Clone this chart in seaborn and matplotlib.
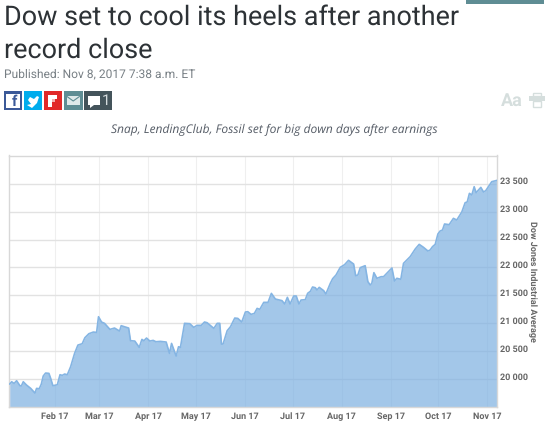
import pandas as pd
import matplotlib
matplotlib.use('Agg')
import matplotlib.pyplot as plt
import matplotlib.dates as mdates
from matplotlib.patches import Rectangle, Polygon
from matplotlib.transforms import ScaledTranslation
import seaborn as sns

# day of year (Jan 1 = 0) and index level
days = [2.4, 3.7, 5.2, 6.8, 8.9, 9.8, 11, 13.1, 15.7, 18.4, 19.4, 21.1, 22.4, 23.6, 25.1, 27.2, 28.3, 29.7,
        32.5, 34.2, 35.6, 37.1, 38.8, 40.9, 43.4, 45.5, 48.2, 49.9, 52.4, 55.2, 57.3, 58.5, 60.4, 62.3, 65.7,
        68.6, 71.8, 72.8, 74.9, 77.5, 78.7, 81.4, 84.2, 85.9, 87.1, 88.8, 90.9, 93, 94.7, 97.6, 101.2, 103.3,
        104.6, 107.5, 109, 110.2, 112.8, 116.1, 118.6, 120.7, 123.3, 125.4, 127, 131.3, 133.4, 135, 136.1,
        137.1, 139.7, 141.8, 144.5, 146.4, 148.9, 151.2, 152.7, 154.8, 156.9, 158.6, 160.3, 162.8, 165.5,
        167.6, 170.1, 174.3, 176, 177.7, 179.4, 181.7, 183.3, 185, 186.3, 189, 190.5, 192.2, 193.6, 195.3,
        196.4, 197.8, 200.6, 202, 204.8, 206.3, 208.4, 211.1, 213.8, 216.3, 219.5, 220.8, 222.2, 223.7,
        226.8, 228.5, 230, 231, 232.3, 234.2, 236.9, 238.4, 243.7, 245.3, 246.8, 249.3, 251, 255.2, 258.4,
        260.9, 263.6, 266.4, 267.8, 269.3, 271, 272.7, 274.1, 275.6, 276.9, 279.8, 282.5, 284.6, 287.8,
        289.9, 291.2, 292.6, 294.1, 295.6, 296.8, 299.8, 301.5, 302.9, 306.7, 310.1]
dow = [19910, 19952, 19922, 19970, 19881, 19875, 19952, 19892, 19833, 19749, 19833, 19827, 19910, 20054, 20108,
       20102, 20012, 19881, 19898, 20078, 20066, 20090, 20078, 20221, 20460, 20609, 20633, 20741, 20812, 20842,
       20836, 21117, 21022, 20998, 20890, 20914, 20860, 20956, 20938, 20914, 20687, 20681, 20568, 20711, 20687,
       20735, 20681, 20693, 20669, 20675, 20663, 20460, 20639, 20412, 20579, 20568, 20998, 20992, 20926, 20962,
       20962, 21022, 21010, 20908, 20998, 20998, 20627, 20627, 20866, 20938, 21093, 21087, 21022, 21201, 21207,
       21159, 21177, 21266, 21249, 21374, 21374, 21535, 21434, 21405, 21345, 21464, 21345, 21488, 21488, 21345,
       21416, 21422, 21536, 21572, 21649, 21637, 21596, 21643, 21584, 21524, 21715, 21799, 21864, 22002, 22049,
       22127, 22061, 21852, 21864, 21996, 22031, 21745, 21685, 21715, 21906, 21805, 21834, 21834, 21990, 21757,
       21805, 21787, 22073, 22193, 22330, 22413, 22360, 22294, 22312, 22372, 22413, 22599, 22652, 22670, 22778,
       22766, 22879, 22849, 22993, 23160, 23172, 23327, 23297, 23446, 23339, 23434, 23351, 23375, 23536, 23560]
y_ticks = [20000, 20500, 21000, 21500, 22000, 22500, 23000, 23500]
y_labels = ['20 000', '20 500', '21 000', '21 500', '22 000', '22 500', '23 000', '23 500']
month_ticks = ['2017-02-01', '2017-03-01', '2017-04-01', '2017-05-01', '2017-06-01',
               '2017-07-01', '2017-08-01', '2017-09-01', '2017-10-01', '2017-11-01']

headline = ['Dow set to cool its heels after another', 'record close']
published = 'Published: Nov 8, 2017 7:38 a.m. ET'
subhead = 'Snap, LendingClub, Fossil set for big down days after earnings'

sns.set_theme(style='white')
plt.rcParams['font.family'] = ['Roboto', 'DejaVu Sans']
plt.rcParams['text.hinting'] = 'no_hinting'
plt.rcParams['text.hinting_factor'] = 1

W, H = 550, 425
fig = plt.figure(figsize=(W / 100, H / 100), dpi=100)
L, R, T, B = 9, 497, 155.5, 406.7
ax = fig.add_axes([L / W, 1 - B / H, (R - L) / W, (B - T) / H])

df = pd.DataFrame({'date': pd.Timestamp('2017-01-01') + pd.to_timedelta(days, unit='D'), 'dow': dow})

# area chart with the grid showing through the fill
ax.fill_between(df['date'], df['dow'], 19500, color='#7cb0e1', alpha=0.7, lw=0, zorder=2)
sns.lineplot(data=df, x='date', y='dow', color='#85b5e3', lw=1.2, ax=ax, zorder=3)

ax.set_xlim(pd.Timestamp('2017-01-03'), pd.Timestamp('2017-11-07'))
ax.set_ylim(19505, 24005)
ax.set_xticks(pd.to_datetime(month_ticks))
ax.xaxis.set_major_formatter(mdates.DateFormatter('%b %y'))
ax.set_yticks(y_ticks, labels=y_labels)
ax.yaxis.tick_right()
ax.grid(axis='y', color='#e2e2e2', lw=1, zorder=1)
ax.grid(axis='x', color='#efefef', lw=0.8, zorder=1)
ax.set_axisbelow(True)
ax.tick_params(axis='both', length=0, labelsize=6.6, labelcolor='#666666')
ax.tick_params(axis='x', pad=4)
ax.tick_params(axis='y', pad=2)
for t in ax.get_yticklabels():
    t.set_fontweight('bold')
    t.set_transform(t.get_transform() + ScaledTranslation(0, 3 / 100, fig.dpi_scale_trans))
for t in ax.get_xticklabels():
    t.set_fontweight('bold')
ax.set_xlabel('')
ax.set_ylabel('')
for s in ax.spines.values():
    s.set_color('#d8d8d8')
    s.set_linewidth(1)

# page furniture, in pixel coordinates
pg = fig.add_axes([0, 0, 1, 1], zorder=5)
pg.set_xlim(0, W)
pg.set_ylim(H, 0)
pg.axis('off')
pg.patch.set_alpha(0)

pg.text(3.5, 25, headline[0], fontsize=19.4, color='#2d3236', va='baseline', ha='left')
pg.text(3.5, 57.5, headline[1], fontsize=19.4, color='#2d3236', va='baseline', ha='left')
pg.text(3.5, 74, published, fontsize=8.45, color='#777f84', va='center', ha='left')
pg.text(274, 130, subhead, fontsize=8.3, color='#555c66', style='italic', va='center', ha='center',
        family=['Open Sans', 'DejaVu Sans'])
pg.text(532, 281, 'Dow Jones Industrial Average', fontsize=6.6, color='#666666', fontweight='bold',
        rotation=-90, va='center', ha='center')

pg.add_patch(Rectangle((466, 0), 78, 4, color='#5f8d94', lw=0))

# share buttons
for x0, w, c in [(3.5, 18.5, '#3b5998'), (23.5, 18.5, '#00aced'), (43.5, 18.5, '#e12828'),
                 (64, 18.5, '#5f8d94'), (84, 28, '#44545b')]:
    pg.add_patch(Rectangle((x0, 91), w, 19, color=c, lw=0))
pg.add_patch(Rectangle((6, 93.5), 13.5, 14, color='white', lw=0))
pg.text(14, 102, 'f', color='#3b5998', fontsize=11, fontweight='bold', ha='center', va='center')
pg.add_patch(Polygon([(27, 105), (31, 104), (28, 100), (30, 97), (34, 99), (37, 96), (39, 97), (37, 103),
                      (32, 108)], color='white', lw=0))
pg.add_patch(Rectangle((48, 95), 9, 4, color='white', lw=0))
pg.add_patch(Rectangle((48, 99), 4, 8, color='white', lw=0))
pg.add_patch(Rectangle((52, 99), 3, 3, color='#f4b0b0', lw=0))
pg.add_patch(Rectangle((67, 96), 12.5, 9, color='#dfe9ea', lw=0))
pg.plot([67, 73.2, 79.5], [96.5, 101, 96.5], color='#5f8d94', lw=0.8)
pg.add_patch(Rectangle((88, 96), 11.5, 9, color='white', lw=0))
pg.add_patch(Polygon([(90, 105), (94, 105), (90, 108)], color='white', lw=0))
pg.text(105.5, 100.5, '1', color='#d5dcde', fontsize=11, ha='center', va='center')

# text size and print icons
pg.text(511.5, 100.5, 'Aa', color='#d5dedd', fontsize=13, fontweight='bold', ha='center', va='center')
pg.add_patch(Rectangle((533, 92.5), 8, 3, fill=False, ec='#d5dedd', lw=1))
pg.add_patch(Rectangle((529, 95.5), 16, 5, color='#d5dedd', lw=0))
pg.add_patch(Rectangle((533, 100.5), 8, 6, fill=False, ec='#d5dedd', lw=1))

fig.savefig('out.png', dpi=100)
